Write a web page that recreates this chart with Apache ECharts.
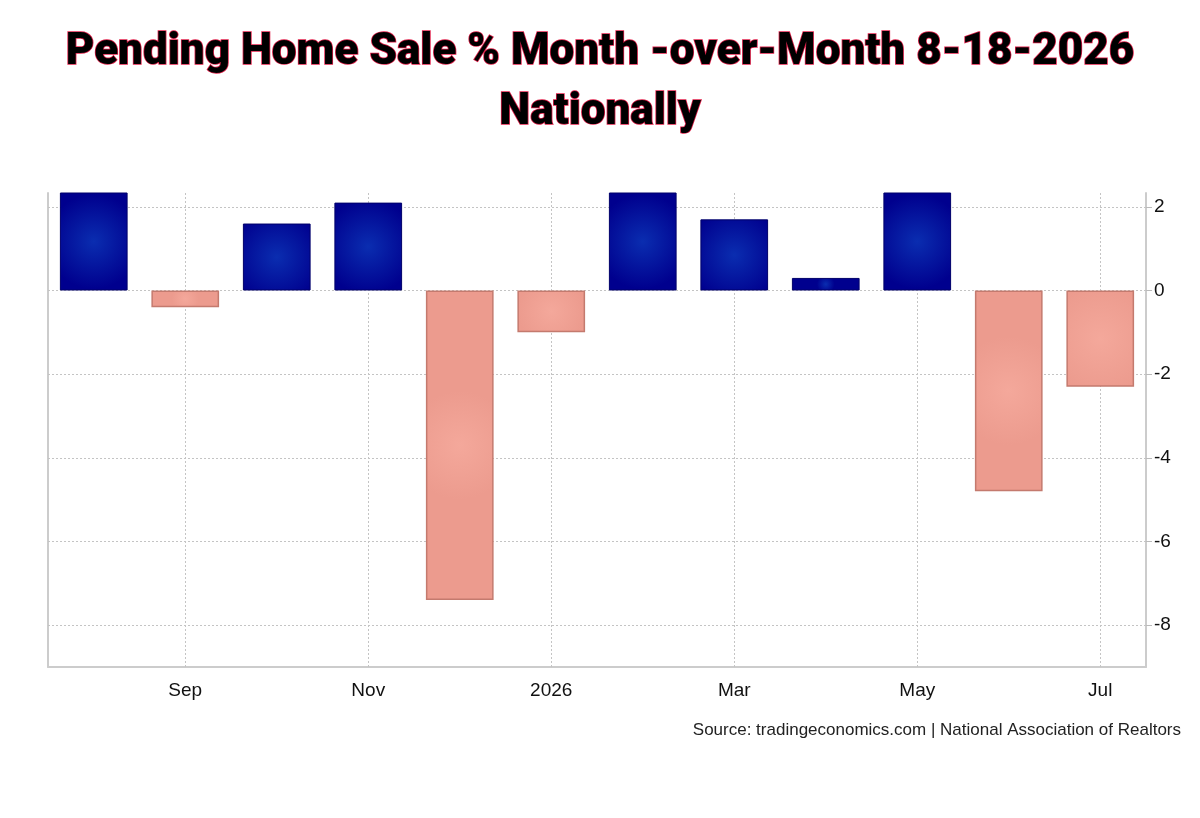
<!DOCTYPE html>
<html><head><meta charset="utf-8">
<script src="https://cdn.jsdelivr.net/npm/echarts@6/dist/echarts.min.js"></script>
<style>html,body{margin:0;padding:0;background:#fff}#c{width:1200px;height:818px}</style>
</head><body><div id="c"></div>
<script>
const categories = ['Aug','Sep','Oct','Nov','Dec','2026','Feb','Mar','Apr','May','Jun','Jul'];
const values = [4.0, -0.4, 1.6, 2.1, -7.4, -1.0, 2.6, 1.7, 0.3, 2.8, -4.8, -2.3];
const gridCategories = ['Sep','Nov','2026','Mar','May','Jul'];
const yTicks = [-8, -6, -4, -2, 0, 2];
const titleLines = ['Pending Home Sale % Month -over-Month 8-18-2026', 'Nationally'];
const sourceText = 'Source: tradingeconomics.com | National Association of Realtors';

const posColor = {type:'radial', x:0.5, y:0.5, r:0.7, colorStops:[{offset:0,color:'#0a2db0'},{offset:1,color:'#00008e'}]};
const negColor = {type:'radial', x:0.5, y:0.5, r:0.8, colorStops:[{offset:0,color:'#f4a89b'},{offset:1,color:'#ec9b8e'}]};
const gridLine = {color:'#c4c4c4', type:[2,2], width:1};

const chart = echarts.init(document.getElementById('c'), null, {renderer:'canvas'});
chart.setOption({
  animation:false,
  backgroundColor:'#fff',
  title:[
    {text:titleLines[0], left:'center', top:26, textStyle:{fontFamily:'Roboto', fontWeight:900, fontSize:44, color:'#000', textBorderColor:'#e0204a', textBorderWidth:1.5}},
    {text:titleLines[1], left:'center', top:86, textStyle:{fontFamily:'Roboto', fontWeight:900, fontSize:44, color:'#000', textBorderColor:'#e0204a', textBorderWidth:1.5}},
    {text:sourceText, right:14, top:717, textStyle:{fontFamily:'Liberation Sans', fontWeight:'normal', fontSize:17, color:'#222'}}
  ],
  grid:{left:48, right:54, top:193, bottom:151, containLabel:false},
  xAxis:{
    type:'category', data:categories, boundaryGap:true,
    axisLine:{show:true, onZero:false, lineStyle:{color:'#cccccc', width:2}},
    axisTick:{show:false},
    axisLabel:{interval:(i)=>i%2===1, fontFamily:'Liberation Sans', fontSize:19, color:'#111', margin:14},
    splitLine:{show:false}
  },
  yAxis:[{
    type:'value', position:'right', min:-9, max:2.33,
    axisLine:{show:true, lineStyle:{color:'#cccccc', width:2}},
    axisTick:{show:true, length:6, lineStyle:{color:'#bbbbbb'}, customValues:yTicks},
    axisLabel:{fontFamily:'Liberation Sans', fontSize:19, color:'#111', margin:8, customValues:yTicks},
    splitLine:{show:false}
  },{
    type:'value', position:'left', min:-9, max:2.33,
    axisLine:{show:true, onZero:false, lineStyle:{color:'#cccccc', width:2}},
    axisTick:{show:false}, axisLabel:{show:false}, splitLine:{show:false}
  }],
  series:[{
    type:'line', data:[], z:1, silent:true,
    markLine:{z:1, silent:true, symbol:'none', label:{show:false}, lineStyle:gridLine,
      data: gridCategories.map(c => ({xAxis:c})).concat(yTicks.map(v => ({yAxis:v})))}
  },{
    type:'bar', barWidth:'74%', clip:true, z:3,
    data: values.map(v => ({value:v, itemStyle: v >= 0
      ? {color:posColor, borderColor:'#00006a', borderWidth:1}
      : {color:negColor, borderColor:'#c47a6e', borderWidth:1.5}}))
  }]
});
</script></body></html>
